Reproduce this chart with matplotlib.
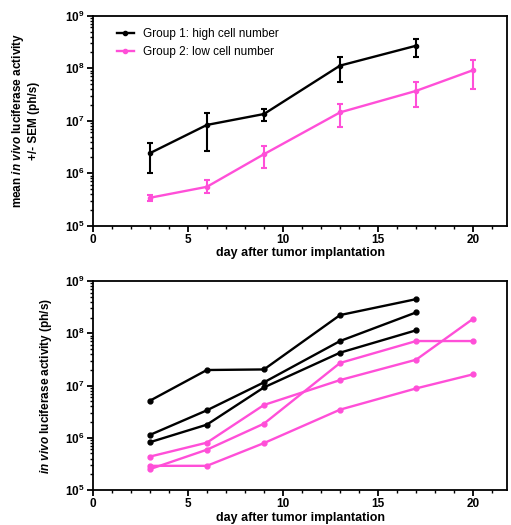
import matplotlib
matplotlib.use("Agg")
import matplotlib.pyplot as plt
from matplotlib.ticker import MultipleLocator, LogLocator, NullFormatter

plt.rcParams["font.family"] = ["Liberation Sans", "DejaVu Sans"]
plt.rcParams["mathtext.fontset"] = "custom"
plt.rcParams["mathtext.it"] = "Liberation Sans:italic:bold"

BLACK = "black"
PINK = "#ff4fd8"

# top panel: group means with asymmetric SEM bars
days1 = [3, 6, 9, 13, 17]
mean1 = [2.4e6, 8.3e6, 1.34e7, 1.12e8, 2.68e8]
upper1 = [3.7e6, 1.38e7, 1.66e7, 1.67e8, 3.6e8]
lower1 = [1.0e6, 2.6e6, 9.7e6, 5.5e7, 1.67e8]

days2 = [3, 6, 9, 13, 17, 20]
mean2 = [3.4e5, 5.5e5, 2.3e6, 1.44e7, 3.7e7, 9.2e7]
upper2 = [3.85e5, 7.4e5, 3.3e6, 2.08e7, 5.5e7, 1.43e8]
lower2 = [2.9e5, 4.25e5, 1.27e6, 7.5e6, 1.85e7, 4.1e7]

# bottom panel: individual animals
mice1 = [
    [5.1e6, 1.98e7, 2.03e7, 2.23e8, 4.5e8],
    [1.13e6, 3.35e6, 1.15e7, 7.1e7, 2.51e8],
    [8.2e5, 1.78e6, 9.2e6, 4.25e7, 1.14e8],
]
mice2 = [
    [4.35e5, 8.05e5, 4.24e6, 1.27e7, 3.12e7, 1.9e8],
    [2.5e5, 5.9e5, 1.86e6, 2.7e7, 7.1e7, 7.1e7],
    [2.9e5, 2.9e5, 7.9e5, 3.45e6, 8.8e6, 1.64e7],
]


def style_axis(ax):
    ax.set_yscale("log")
    ax.set_ylim(1e5, 1e9)
    ax.set_xlim(0, 21.8)
    ax.xaxis.set_major_locator(MultipleLocator(5))
    ax.xaxis.set_minor_locator(MultipleLocator(1))
    ax.yaxis.set_major_locator(LogLocator(base=10))
    ax.yaxis.set_minor_locator(LogLocator(base=10, subs=range(2, 10)))
    ax.yaxis.set_minor_formatter(NullFormatter())
    for s in ax.spines.values():
        s.set_linewidth(1.3)
    ax.tick_params(which="major", direction="out", length=4, width=1.3,
                   labelsize=8.5, pad=2)
    ax.tick_params(which="minor", direction="out", length=2.5, width=1)
    for lab in ax.get_xticklabels() + ax.get_yticklabels():
        lab.set_fontweight("bold")
    ax.set_xlabel("day after tumor implantation", fontsize=9,
                  fontweight="bold", labelpad=1)


fig = plt.figure(figsize=(5.11, 5.25), dpi=100)
ax1 = fig.add_axes([0.1814, 0.5701, 0.8117, 0.4])
ax2 = fig.add_axes([0.1814, 0.0667, 0.8117, 0.398])

err1 = [[m - l for m, l in zip(mean1, lower1)], [u - m for m, u in zip(mean1, upper1)]]
err2 = [[m - l for m, l in zip(mean2, lower2)], [u - m for m, u in zip(mean2, upper2)]]
ax1.errorbar(days1, mean1, yerr=err1, fmt="none", ecolor=BLACK,
             capsize=2.5, capthick=1.5, elinewidth=1.5)
ax1.errorbar(days2, mean2, yerr=err2, fmt="none", ecolor=PINK,
             capsize=2.5, capthick=1.5, elinewidth=1.5)
ax1.plot(days1, mean1, color=BLACK, lw=1.7, marker="o", ms=3,
         label="Group 1: high cell number")
ax1.plot(days2, mean2, color=PINK, lw=1.7, marker="o", ms=3,
         label="Group 2: low cell number")
style_axis(ax1)
ax1.set_ylabel("mean $\\mathit{in\\ vivo}$ luciferase activity\n+/- SEM (ph/s)",
               fontsize=8.5, fontweight="bold", labelpad=18, linespacing=1.25)
ax1.legend(loc="upper left", bbox_to_anchor=(0.033, 0.99), frameon=False,
           fontsize=8.5, handlelength=1.4, handletextpad=0.8, labelspacing=0.45)

for vals in mice1:
    ax2.plot(days1, vals, color=BLACK, lw=1.7, marker="o", ms=3.5)
for vals in mice2:
    ax2.plot(days2, vals, color=PINK, lw=1.7, marker="o", ms=3.5)
style_axis(ax2)
ax2.set_ylabel("$\\mathit{in\\ vivo}$ luciferase activity (ph/s)",
               fontsize=8.5, fontweight="bold", labelpad=8)

fig.savefig("out.png", dpi=100)
